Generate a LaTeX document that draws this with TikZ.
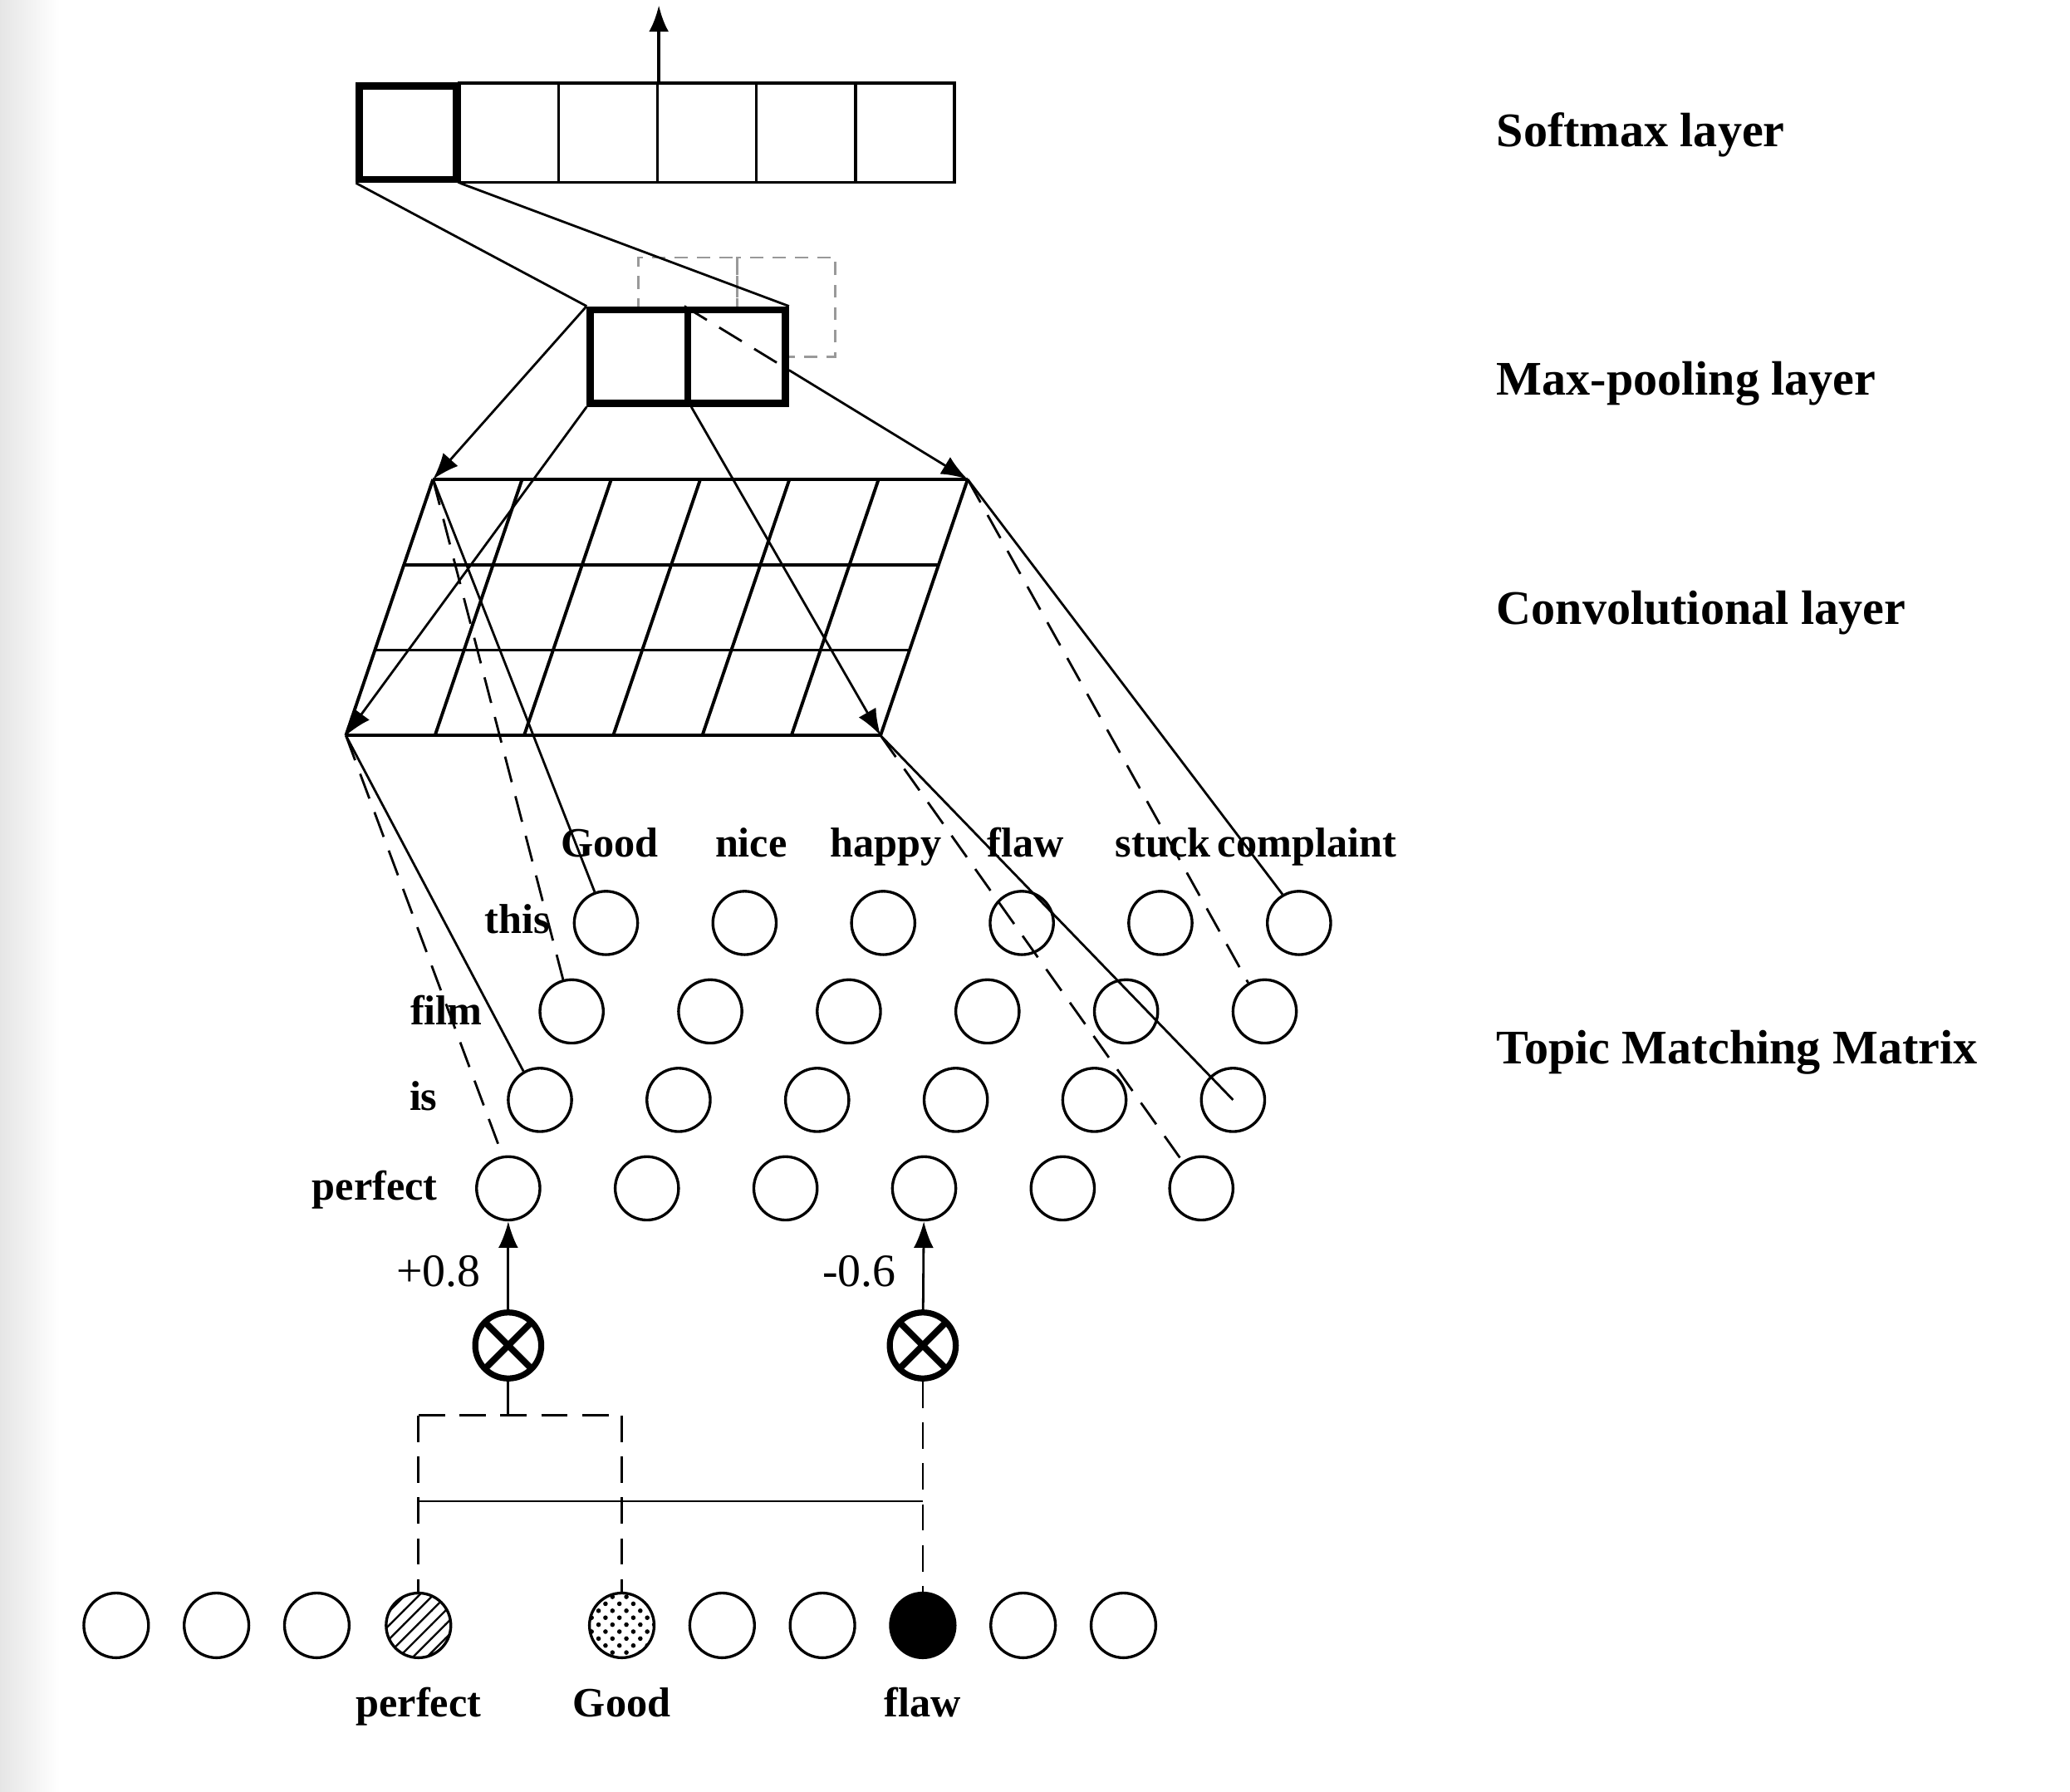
\documentclass[tikz,border=0pt]{standalone}
\usepackage{fontspec}
\setmainfont{Liberation Serif}
\usetikzlibrary{arrows.meta,positioning,calc,patterns}

\begin{document}
\begin{tikzpicture}[
        x=0.1mm, y=-0.1mm,
        soft_cell/.style={rectangle, draw, line width=0.6pt, minimum width=7.5mm, minimum height=7.5mm, inner sep=0pt},
        bold_cell/.style={rectangle, draw, fill=white, line width=1.5pt, minimum width=7.35mm, minimum height=7.1mm, inner sep=0pt},
        ghost_cell/.style={rectangle, draw=black!40, dash pattern=on 1mm off 0.7mm, line width=0.5pt, minimum width=7.45mm, minimum height=7.5mm, inner sep=0pt},
        neuron/.style={circle, draw, line width=0.6pt, minimum size=4.8mm, inner sep=0pt},
        times_op/.style={circle, draw, line width=1.3pt, minimum size=5.0mm, inner sep=0pt,
            path picture={\draw[line width=1.4pt] (path picture bounding box.north west) -- (path picture bounding box.south east) (path picture bounding box.south west) -- (path picture bounding box.north east);}},
        layer_label/.style={font=\bfseries\fontsize{10.4}{12}\selectfont, anchor=base west, inner sep=0pt},
        word_label/.style={font=\bfseries\fontsize{9}{11}\selectfont, inner sep=0.5mm, text height=1.6ex, text depth=0.45ex},
        weight_label/.style={font=\fontsize{10}{12}\selectfont, inner sep=0.5mm},
        plain_link/.style={line width=0.5pt},
        hidden_link/.style={line width=0.5pt, dash pattern=on 2mm off 1.1mm},
        feed/.style={line width=0.5pt, -{Latex[length=2mm, width=1.5mm]}},
        grid_line/.style={line width=0.7pt}
    ]

    % --- Canvas ---
    \useasboundingbox (0,0) rectangle (1568,1357);
    \shade[left color=black!10, right color=white] (0,0) rectangle (45,1357);

    % --- Softmax layer ---
    \node[ghost_cell] (g1) at (521,232.5) {};
    \node[ghost_cell] (g2) at (595.5,232.5) {};

    \foreach \i in {2,...,6}
        \node[soft_cell] (s\i) at ({348+75*(\i-1.5)},100.5) {};
    \node[bold_cell] (s1) at (309,100.5) {};

    \coordinate (out) at ($(s3.north east)+(0,-58)$);
    \draw[feed, line width=0.8pt] (s3.north east) -- (out);

    % --- Max-pooling layer ---
    \node[bold_cell, minimum width=7.4mm] (p1) at (484,270) {};
    \node[bold_cell, minimum width=7.4mm] (p2) at (558,270) {};

    \draw[plain_link] (s1.south west) -- (p1.north west);
    \draw[plain_link] (s1.south east) -- (p2.north east);

    % --- Convolutional layer ---
    \coordinate (ctl) at (328,363);
    \coordinate (ctr) at (733,363);
    \coordinate (cbl) at (262,557);
    \coordinate (cbr) at (667,557);

    \foreach \k in {0,1,2,3}
        \draw[grid_line] ($(ctl)!\k/3!(cbl)$) -- ($(ctr)!\k/3!(cbr)$);
    \foreach \k in {0,...,6}
        \draw[grid_line] ($(ctl)!\k/6!(ctr)$) -- ($(cbl)!\k/6!(cbr)$);

    \draw[feed] (p1.north west) -- (ctl);
    \draw[feed] (p1.south west) -- (cbl);
    \draw[feed] (p1.south east) -- (cbr);

    % hidden part inside the second pooling cell
    \coordinate (exit) at (intersection of p2.north east--p2.south east and p2.north west--ctr);
    \draw[hidden_link] (p2.north west) -- (exit);
    \draw[feed] (exit) -- (ctr);

    % --- Topic Matching Matrix ---
    \foreach \r/\y/\x in {1/699/459, 2/766/433, 3/833/409, 4/900/385}
        \foreach \c in {1,...,6}
            \node[neuron] (m\r\c) at ({\x+105*(\c-1)},\y) {};

    \foreach \c/\w/\dx in {1/Good/0.3mm, 2/nice/0.5mm, 3/happy/0.2mm, 4/flaw/0.3mm, 5/stuck/0.2mm, 6/complaint/0.6mm}
        \node[word_label, above=1.2mm of m1\c, xshift=\dx] (t\c) {\w};

    \node[word_label, anchor=base east] (r1) at (422,707) {this};
    \node[word_label, anchor=base east] (r2) at (371,776) {film};
    \node[word_label, anchor=base east] (r3) at (337,841) {is};
    \node[word_label, anchor=base east] (r4) at (337,909) {perfect};

    \draw[plain_link] (ctl) -- (m11.110);
    \draw[hidden_link] (ctl) -- (m21.105);
    \draw[plain_link] (cbl) -- (m31.120);
    \draw[hidden_link] (cbl) -- (m41.100);
    \draw[plain_link] (cbr) -- (m36.center);
    \draw[hidden_link] (cbr) -- (m46.125);
    \draw[plain_link] (ctr) -- (m16.120);
    \draw[hidden_link] (ctr) -- (m26.120);

    % --- Weighting ---
    \node[times_op] (x1) at (385,1019) {};
    \node[times_op] (x2) at (699,1019) {};

    \draw[feed] (x1) -- node[weight_label, left=1.5mm, pos=0.43] {+0.8} (m41);
    \draw[feed] (x2) -- node[weight_label, left=1.5mm, pos=0.43] {-0.6} (m44);

    % --- Input words ---
    \foreach \x [count=\i] in {88,164,240,317,471,547,623,699,775,851}
        \coordinate (bc\i) at (\x,1231);
    \foreach \i in {1,2,3,6,7,9,10}
        \node[neuron, minimum size=4.9mm] (b\i) at (bc\i) {};
    \node[neuron, minimum size=4.9mm, pattern=north east lines] (b4) at (bc4) {};
    \node[neuron, minimum size=4.9mm, pattern=crosshatch dots] (b5) at (bc5) {};
    \node[neuron, minimum size=4.9mm, fill=black] (b8) at (bc8) {};

    \node[word_label, below=1.2mm of b4] (w4) {perfect};
    \node[word_label, below=1.2mm of b5] (w5) {Good};
    \node[word_label, below=1.2mm of b8] (w8) {flaw};

    \coordinate (jl) at (317,1072);
    \coordinate (jr) at (471,1072);
    \coordinate (hl) at (317,1137);
    \coordinate (hr) at (699,1137);

    \draw[plain_link] (x1) -- (x1 |- jl);
    \draw[hidden_link] (jl) -- (jr);
    \draw[hidden_link] (jl) -- (b4);
    \draw[hidden_link] (jr) -- (b5);
    \draw[hidden_link] (x2) -- (b8);
    \draw[plain_link] (hl) -- (hr);

    % --- Layer names ---
    \node[layer_label] (l1) at (1133,111) {Softmax layer};
    \node[layer_label] (l2) at (1133,299) {Max-pooling layer};
    \node[layer_label] (l3) at (1133,473) {Convolutional layer};
    \node[layer_label] (l4) at (1133,806) {Topic Matching Matrix};

\end{tikzpicture}
\end{document}
